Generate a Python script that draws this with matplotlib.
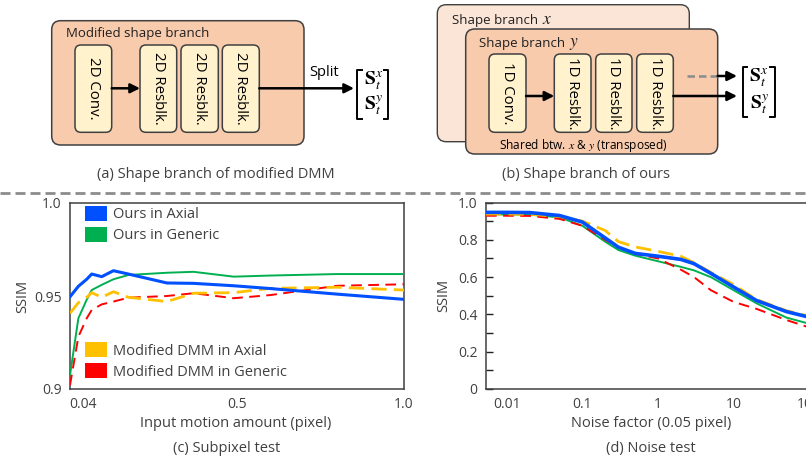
import matplotlib
matplotlib.use("Agg")
import matplotlib.pyplot as plt
from matplotlib.patches import FancyBboxPatch, Patch

plt.rcParams['font.family'] = ['Open Sans', 'DejaVu Sans']
plt.rcParams['mathtext.fontset'] = 'stix'

# ---------------- data ----------------
# (c) Subpixel test
sub_x = [0.0, 0.025, 0.05, 0.065, 0.095, 0.13, 0.175, 0.29, 0.37, 0.49, 0.6, 0.8, 1.0]
sub_ours_axial = [0.9496, 0.9552, 0.959, 0.9618, 0.9604, 0.9636, 0.9618, 0.957, 0.9568, 0.9555, 0.954, 0.951, 0.9482]
sub_ours_generic = [0.9075, 0.938, 0.948, 0.9532, 0.956, 0.959, 0.9613, 0.9625, 0.963, 0.9604, 0.961, 0.9618, 0.9618]
sub_dmm_axial = [0.9407, 0.9464, 0.9493, 0.9518, 0.9493, 0.9523, 0.9493, 0.947, 0.9515, 0.9518, 0.9541, 0.9547, 0.9532]
sub_dmm_generic = [0.902, 0.9281, 0.938, 0.9425, 0.9455, 0.947, 0.9491, 0.950, 0.9515, 0.9488, 0.9505, 0.9555, 0.9563]

# (d) Noise test
noise_x = [0.0053, 0.01, 0.02, 0.05, 0.1, 0.2, 0.3, 0.5, 1, 2, 3, 5, 10, 20, 50, 100, 148]
noise_ours_axial = [0.947, 0.947, 0.946, 0.930, 0.895, 0.810, 0.760, 0.727, 0.712, 0.695, 0.672, 0.620, 0.547, 0.475, 0.415, 0.385, 0.375]
noise_ours_generic = [0.936, 0.936, 0.935, 0.920, 0.875, 0.790, 0.745, 0.715, 0.685, 0.655, 0.636, 0.600, 0.530, 0.460, 0.383, 0.350, 0.340]
noise_dmm_axial = [0.938, 0.938, 0.937, 0.925, 0.900, 0.850, 0.790, 0.762, 0.738, 0.712, 0.677, 0.625, 0.560, 0.480, 0.420, 0.390, 0.380]
noise_dmm_generic = [0.929, 0.929, 0.928, 0.912, 0.875, 0.800, 0.760, 0.725, 0.700, 0.640, 0.600, 0.530, 0.467, 0.430, 0.370, 0.330, 0.320]

sub_xticks = [0.04, 0.5, 1.0]
sub_xticklabels = ['0.04', '0.5', '1.0']
sub_yticks = [0.9, 0.95, 1.0]
sub_yticklabels = ['0.9', '0.95', '1.0']
noise_xticks = [0.01, 0.1, 1, 10, 100]
noise_xticklabels = ['0.01', '0.1', '1', '10', '100']
noise_yticks = [0, 0.2, 0.4, 0.6, 0.8, 1.0]
noise_yticklabels = ['0', '0.2', '0.4', '0.6', '0.8', '1.0']
noise_yminor = [0.1, 0.3, 0.5, 0.7, 0.9]

labels = ['Ours in Axial', 'Ours in Generic', 'Modified DMM in Axial', 'Modified DMM in Generic']
BLUE, GREEN, YELLOW, RED = '#0050FF', '#00B050', '#FFC000', '#FF0000'
TXT = '#404040'

W, H = 806, 462
fig = plt.figure(figsize=(W / 100, H / 100), dpi=100)
renderer = fig.canvas.get_renderer()

# overlay in pixel coordinates for the diagrams and captions
ov = fig.add_axes([0, 0, 1, 1])
ov.set_xlim(0, W)
ov.set_ylim(H, 0)
ov.axis('off')

def rbox(x0, y0, x1, y1, fc, ec='#404040', lw=1.1, r=9, z=1):
    p = FancyBboxPatch((x0, y0), x1 - x0, y1 - y0,
                       boxstyle=f"round,pad=0,rounding_size={r}",
                       fc=fc, ec=ec, lw=lw, zorder=z)
    ov.add_patch(p)

def arrow(x0, y0, x1, y1, z=5):
    ov.annotate('', xy=(x1, y1), xytext=(x0, y0),
                arrowprops=dict(arrowstyle='-|>', lw=1.8, color='black',
                                mutation_scale=14, shrinkA=0, shrinkB=0),
                zorder=z)

def bracket(xl, xr, y0, y1, ys, yy):
    s = 4.5
    ov.plot([xl + s, xl, xl, xl + s], [y0, y0, y1, y1], color='black', lw=1.4, zorder=6)
    ov.plot([xr - s, xr, xr, xr - s], [y0, y0, y1, y1], color='black', lw=1.4, zorder=6)
    xc = (xl + xr) / 2 + 0.5
    ov.text(xc, ys, r'$\mathbf{S}_t^x$', fontsize=14, ha='center', va='center', zorder=6)
    ov.text(xc, yy, r'$\mathbf{S}_t^y$', fontsize=14, ha='center', va='center', zorder=6)

def label_with_math(x, y, txt, var, z=3):
    t = ov.text(x, y, txt, fontsize=9.5, ha='left', va='center', color='#202020', zorder=z)
    bb = t.get_window_extent(renderer=renderer)
    ov.text(x + bb.width + 4, y - 0.5, '$' + var + '$', fontsize=12.5, ha='left',
            va='center', color='#202020', zorder=z)

PEACH, PEACH_L, CREAM = '#F8CBAD', '#FBE5D6', '#FFF2CC'

# ---- (a) ----
rbox(51.7, 20.7, 304, 145, PEACH)
ov.text(65.5, 34, 'Modified shape branch', fontsize=9.5, ha='left', va='center', color='#202020')
blocks_a = [(75, 111.7, '2D Conv.'), (140, 176.7, '2D Resblk.'),
            (181, 218.3, '2D Resblk.'), (222.3, 259.3, '2D Resblk.')]
for x0, x1, t in blocks_a:
    rbox(x0, 45, x1, 132.3, CREAM, r=6, z=2)
    ov.text((x0 + x1) / 2, 88.5, t, rotation=-90, fontsize=10.8, ha='center', va='center', zorder=3)
arrow(111.7, 88.3, 140, 88.3)
arrow(259.3, 88.3, 354, 88.3)
ov.text(324, 73, 'Split', fontsize=10.5, ha='center', va='center')
bracket(357.3, 388.3, 70, 119.3, 81, 105)
ov.text(215.8, 174, '(a) Shape branch of modified DMM', fontsize=10.5, ha='center', va='center', color=TXT)

# ---- (b) ----
rbox(437.3, 4.7, 689.3, 141.7, PEACH_L, lw=1.0)
label_with_math(452, 20.5, 'Shape branch', 'x', z=1)
rbox(465.7, 29, 717.7, 154, PEACH, z=2)
label_with_math(479, 44, 'Shape branch', 'y', z=3)
blocks_b = [(489, 526, '1D Conv.'), (554.3, 591, '1D Resblk.'),
            (595.7, 632, '1D Resblk.'), (636.7, 673.3, '1D Resblk.')]
for x0, x1, t in blocks_b:
    rbox(x0, 54, x1, 132.3, CREAM, r=6, z=3)
    ov.text((x0 + x1) / 2, 93, t, rotation=-90, fontsize=10.8, ha='center', va='center', zorder=4)
arrow(526, 96, 554.3, 96)
arrow(673.3, 96, 737, 96)
ov.plot([686.5, 717.7], [76, 76], color='#8c8c8c', lw=1.8, dashes=(3, 1.6), zorder=5)
arrow(717.7, 76, 737, 76)
bracket(742.7, 774.5, 66.7, 116.7, 77.5, 104)
ov.text(583, 146, r'Shared btw. $x$ & $y$ (transposed)', fontsize=8.6, ha='center', va='center', zorder=4)
ov.text(585.8, 174, '(b) Shape branch of ours', fontsize=10.5, ha='center', va='center', color=TXT)

# separator
ov.plot([0, W], [192.5, 192.5], color='#8c8c8c', lw=2.0, dashes=(3.6, 1.8))

# ---------------- (c) Subpixel test ----------------
axc = fig.add_axes([70 / W, (H - 389) / H, 334 / W, 186 / H])
axc.plot(sub_x, sub_ours_generic, color=GREEN, lw=1.4, zorder=3)
axc.plot(sub_x, sub_dmm_generic, color=RED, lw=1.4, dashes=(5.5, 3.3), zorder=3)
axc.plot(sub_x, sub_dmm_axial, color=YELLOW, lw=2.0, dashes=(5.5, 2.6), zorder=3)
axc.plot(sub_x, sub_ours_axial, color=BLUE, lw=2.2, zorder=4)
axc.set_xlim(0, 1.0)
axc.set_ylim(0.9, 1.0)
axc.set_xticks(sub_xticks)
axc.set_xticklabels(sub_xticklabels)
axc.set_yticks(sub_yticks)
axc.set_yticklabels(sub_yticklabels)
axc.tick_params(length=0, labelsize=10, colors=TXT, pad=6)
for s in axc.spines.values():
    s.set_color('#404040')
    s.set_linewidth(1.1)
axc.set_ylabel('SSIM', fontsize=10.5, color=TXT, labelpad=3)

h_blue = Patch(fc=BLUE, ec='none')
h_green = Patch(fc=GREEN, ec='none')
h_yel = Patch(fc=YELLOW, ec='none')
h_red = Patch(fc=RED, ec='none')
leg1 = axc.legend([h_blue, h_green], labels[:2], loc='upper left', bbox_to_anchor=(0.045, 0.985),
                  frameon=False, fontsize=10.5, handlelength=1.5, handleheight=1.2,
                  handletextpad=0.45, labelspacing=0.32, borderpad=0, borderaxespad=0,
                  labelcolor=TXT)
axc.add_artist(leg1)
axc.legend([h_yel, h_red], labels[2:], loc='lower left', bbox_to_anchor=(0.045, 0.05),
           frameon=False, fontsize=10.5, handlelength=1.5, handleheight=1.2,
           handletextpad=0.45, labelspacing=0.32, borderpad=0, borderaxespad=0,
           labelcolor=TXT)

ov.text(235.5, 423.3, 'Input motion amount (pixel)', fontsize=10.5, ha='center', va='center', color=TXT)
ov.text(226.7, 448.3, '(c) Subpixel test', fontsize=10.5, ha='center', va='center', color=TXT)

# ---------------- (d) Noise test ----------------
axd = fig.add_axes([486 / W, (H - 389) / H, 336 / W, 186.5 / H])
axd.plot(noise_x, noise_ours_generic, color=GREEN, lw=1.4, zorder=3)
axd.plot(noise_x, noise_dmm_generic, color=RED, lw=1.4, dashes=(5.5, 3.3), zorder=3)
axd.plot(noise_x, noise_dmm_axial, color=YELLOW, lw=2.0, dashes=(5.5, 2.6), zorder=3)
axd.plot(noise_x, noise_ours_axial, color=BLUE, lw=2.6, zorder=4)
axd.set_xscale('log')
axd.set_xlim(0.0053, 148)
axd.set_ylim(0, 1.0)
axd.set_xticks(noise_xticks)
axd.set_xticklabels(noise_xticklabels)
axd.xaxis.set_minor_locator(matplotlib.ticker.NullLocator())
axd.set_yticks(noise_yticks)
axd.set_yticklabels(noise_yticklabels)
axd.set_yticks(noise_yminor, minor=True)
axd.tick_params(axis='x', length=0, labelsize=10, colors=TXT, pad=6)
axd.tick_params(axis='y', which='both', direction='in', length=5, width=1.0,
                color='#202020', labelsize=10, labelcolor=TXT, pad=6)
for s in axd.spines.values():
    s.set_color('#404040')
    s.set_linewidth(1.1)
axd.set_ylabel('SSIM', fontsize=10.5, color=TXT, labelpad=5)

ov.text(650.8, 423.3, 'Noise factor (0.05 pixel)', fontsize=10.5, ha='center', va='center', color=TXT)
ov.text(650.8, 448.3, '(d) Noise test', fontsize=10.5, ha='center', va='center', color=TXT)

fig.savefig('out.png', dpi=100)
